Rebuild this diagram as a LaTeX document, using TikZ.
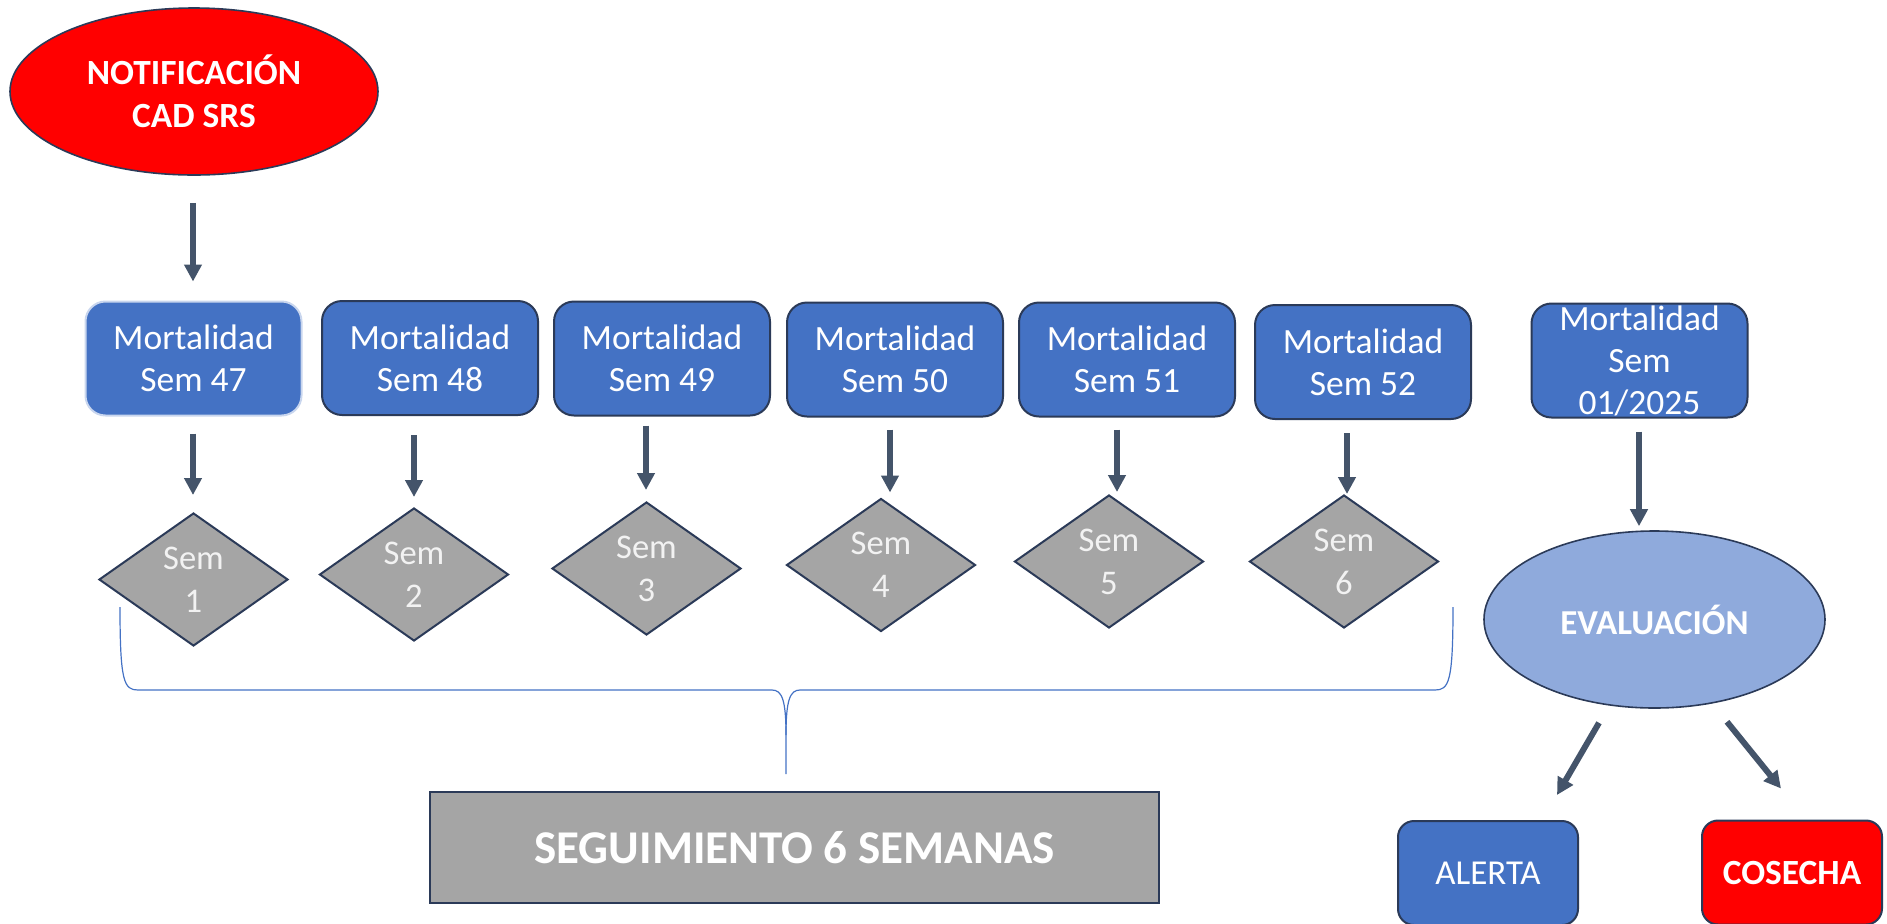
\documentclass[tikz,border=0pt]{standalone}
\usepackage{fontspec}
\setmainfont{Carlito}
\usetikzlibrary{shapes.geometric,arrows.meta,calc}
\definecolor{boxblue}{HTML}{4472C4}
\definecolor{navy}{HTML}{2B3A58}
\definecolor{arrowc}{HTML}{44546A}
\definecolor{dgray}{HTML}{A5A5A5}
\definecolor{evblue}{HTML}{8FAADC}
\definecolor{bracec}{HTML}{4472C4}
\definecolor{lightedge}{HTML}{C9D6EE}
\definecolor{semtext}{HTML}{F2F2F2}
\definecolor{pured}{HTML}{FF0000}
\begin{document}
\begin{tikzpicture}[x=0.5pt,y=-0.5pt,
  mort/.style={rectangle, rounded corners=10pt, fill=boxblue, draw=navy, line width=1pt,
    minimum width=108pt, minimum height=57pt, inner sep=0pt, text=white, align=center,
    font=\fontsize{17.75}{21}\selectfont},
  semd/.style={diamond, fill=dgray, draw=navy, line width=1pt, shape aspect=1.42,
    minimum width=94.5pt, minimum height=66.5pt, inner sep=0pt, text=semtext, align=center,
    font=\fontsize{17.3}{21.5}\selectfont},
  arr/.style={draw=arrowc, line width=3pt, -{Triangle[width=8.5pt,length=8.5pt]}},
  redell/.style={ellipse, fill=pured, draw=navy, line width=0.8pt, minimum width=184pt,
    minimum height=83.5pt, inner sep=0pt, text=white, align=center,
    font=\bfseries\fontsize{17.7}{21.5}\selectfont},
  evell/.style={ellipse, fill=evblue, draw=navy, line width=0.8pt, minimum width=170.5pt,
    minimum height=88.5pt, inner sep=0pt, text=white, align=center,
    font=\bfseries\fontsize{17.5}{21}\selectfont},
  outbox/.style={rectangle, rounded corners=8pt, draw=navy, line width=1pt,
    minimum width=90pt, minimum height=52pt, inner sep=0pt, text=white},
  seg/.style={rectangle, fill=dgray, draw=navy, line width=1pt, minimum width=364.5pt,
    minimum height=55.5pt, inner sep=0pt, text=white,
    font=\bfseries\fontsize{23.5}{28}\selectfont},
  brace/.style={draw=bracec, line width=0.6pt}
]
\useasboundingbox (0,0) rectangle (1887,923);

\node[redell] (notif) at (194,91.5) {NOTIFICACIÓN\\CAD SRS};

\node[mort, draw=lightedge] (b1) at (193.5,358.5) {Mortalidad\\Sem 47};
\node[mort] (b2) at (430,358) {Mortalidad\\Sem 48};
\node[mort] (b3) at (662,358.5) {Mortalidad\\Sem 49};
\node[mort] (b4) at (895,359.5) {Mortalidad\\Sem 50};
\node[mort] (b5) at (1127,359.5) {Mortalidad\\Sem 51};
\node[mort] (b6) at (1363,362) {Mortalidad\\Sem 52};
\node[mort] (b7) at (1639.5,360.5) {Mortalidad\\Sem\\01/2025};

\node[semd] (d1) at (193.5,579.5) {Sem\\1};
\node[semd] (d2) at (414,574.5) {Sem\\2};
\node[semd] (d3) at (646.5,568.5) {Sem\\3};
\node[semd] (d4) at (881,565) {Sem\\4};
\node[semd] (d5) at (1109,561.5) {Sem\\5};
\node[semd] (d6) at (1344,561.5) {Sem\\6};

\node[evell] (ev) at (1654.5,619.5) {EVALUACIÓN};

\node[outbox, fill=boxblue, font=\fontsize{17.5}{21}\selectfont] (alerta) at (1488,873) {ALERTA};
\node[outbox, fill=pured, font=\bfseries\fontsize{17.7}{21}\selectfont] (cosecha) at (1792,872.5) {COSECHA};

\node[seg] (seguim) at (794.5,847.5) {SEGUIMIENTO 6 SEMANAS};

% arrows
\draw[arr] ($(notif.south)+(-1,27)$) -- ($(b1.north)+(-0.5,-19)$);
\draw[arr] ($(b1.south)+(-0.5,17)$) -- ($(d1.north)+(-0.5,-17)$);
\draw[arr] ($(b2.south)+(-16,19)$) -- ($(d2.north)+(0,-10)$);
\draw[arr] ($(b3.south)+(-16,9)$) -- ($(d3.north)+(-0.5,-11)$);
\draw[arr] ($(b4.south)+(-5,12)$) -- ($(d4.north)+(9,-5)$);
\draw[arr] ($(b5.south)+(-10,12)$) -- ($(d5.north)+(8,-2)$);
\draw[arr] ($(b6.south)+(-16,13)$) -- ($(d6.north)+(3,0)$);
\draw[arr] ($(b7.south)+(-0.5,13)$) -- ($(ev.north)+(-15.5,-4)$);
\draw[arr] ($(ev.south)+(-55.5,14)$) -- ($(alerta.north)+(69,-25)$);
\draw[arr] ($(ev.south)+(72.5,13)$) -- ($(cosecha.north)+(-11,-31)$);

% brace
\coordinate (btip) at (786,774);
\draw[brace] (120,607) .. controls (120,682) and (124,690) .. (138,690) -- (772,690)
  .. controls (782,690) and (786,700) .. (786,735) -- (btip);
\draw[brace] (1453,607) .. controls (1453,682) and (1449,690) .. (1435,690) -- (800,690)
  .. controls (790,690) and (786,700) .. (786,735);
\end{tikzpicture}
\end{document}
